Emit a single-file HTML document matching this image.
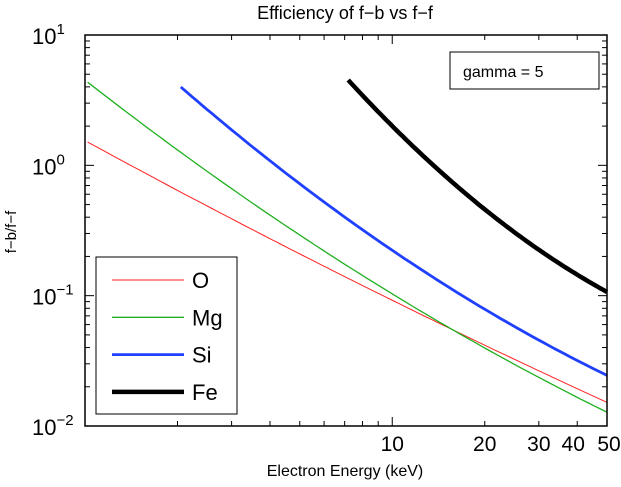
<!DOCTYPE html>
<html><head><meta charset="utf-8"><style>
html,body{margin:0;padding:0;background:#fff;}
svg{display:block;font-family:"Liberation Sans",Arial,sans-serif;}
</style></head><body>
<svg id="chart" width="621" height="487" viewBox="0 0 621 487">
<text x="345" y="19" font-size="18" text-anchor="middle">Efficiency of f−b vs f−f</text>
<text x="345" y="476" font-size="16" text-anchor="middle">Electron Energy (keV)</text>
<text transform="translate(16,232) rotate(-90)" font-size="15" text-anchor="middle">f−b/f−f</text>
<g id="grid"></g>
<g id="series"></g>
<rect x="85" y="35" width="522" height="391" fill="none" stroke="#000" stroke-width="1.5"/>
<g>
<rect x="450" y="52" width="149" height="37" fill="#fff" stroke="#000" stroke-width="1"/>
<text x="463" y="77" font-size="16">gamma = 5</text>
</g>
<g id="legend">
<rect x="96" y="257" width="141" height="157" fill="#fff" stroke="#000" stroke-width="1"/>
</g>
</svg>
<script>
const xTickValues=[10,20,30,40,50];
const xTickLabels=["10","20","30","40","50"];
const yTickExps=[1,0,-1,-2];
const seriesNames=["O","Mg","Si","Fe"];
const seriesColors=["#ff2020","#20b020","#2040ff","#000000"];
const seriesWidths=[1,1.3,2.8,4.5];
const xO=[1.02,2.12,6.19,10.6,15.7,50];
const yO=[1.476,0.627,0.157,0.0848,0.056,0.0152];
const xMg=[1.02,2.12,7.02,10,15.7,50];
const yMg=[4.13,1.31,0.169,0.098,0.056,0.0129];
const xSi=[2.05,7.02,11.2,20.2,50];
const ySi=[4.01,0.392,0.187,0.0789,0.0243];
const xFe=[7.19,11.2,18.5,30.5,50];
const yFe=[4.52,1.56,0.51,0.23,0.105];
const seriesX=[xO,xMg,xSi,xFe];
const seriesY=[yO,yMg,ySi,yFe];

const NS="http://www.w3.org/2000/svg";
const L=85,R=607,T=35,B=426,XMIN=1,XMAX=50,YMIN=0.01,YMAX=10;
function sx(v){return L+(Math.log10(v)-Math.log10(XMIN))/(Math.log10(XMAX)-Math.log10(XMIN))*(R-L);}
function sy(v){return B-(Math.log10(v)-Math.log10(YMIN))/(Math.log10(YMAX)-Math.log10(YMIN))*(B-T);}
function mk(tag,attrs,parent){const e=document.createElementNS(NS,tag);for(const k in attrs)e.setAttribute(k,attrs[k]);parent.appendChild(e);return e;}
const grid=document.getElementById('grid');
for(let d=1;d<=10;d*=10){for(let m=1;m<10;m++){const v=d*m;if(v<XMIN||v>XMAX)continue;const x=sx(v);const len=(m===1)?9:5;
const t1=mk('line',{x1:x,x2:x,y1:B,y2:B-len,stroke:'#000','stroke-width':1},grid);


mk('line',{x1:x,x2:x,y1:T,y2:T+len,stroke:'#000','stroke-width':1},grid);}}
xTickValues.forEach((v,i)=>{const t=mk('text',{x:sx(v)+(v===40?-4:v===50?2:0),y:451,'font-size':21,'text-anchor':'middle'},grid);t.textContent=xTickLabels[i];

});
for(let e=-2;e<1;e++){for(let m=1;m<10;m++){const v=m*Math.pow(10,e);const y=sy(v);const len=m===1?9:5;
const t=mk('line',{x1:L,x2:L+len,y1:y,y2:y,stroke:'#000','stroke-width':1},grid);


mk('line',{x1:R,x2:R-len,y1:y,y2:y,stroke:'#000','stroke-width':1},grid);}}
yTickExps.forEach(e=>{const y=sy(Math.pow(10,e));const t=mk('text',{x:32,y:y+9,'font-size':22},grid);


t.appendChild(document.createTextNode('10'));const s=document.createElementNS(NS,'tspan');s.setAttribute('dy','-10');s.setAttribute('font-size','15');s.textContent=(e<0?'−'+(-e):String(e));t.appendChild(s);});
// quadratic least-squares fit in log-log space for smooth curves
function quadFit(X,Y){let S=[0,0,0,0,0],Q=[0,0,0];
for(let k=0;k<X.length;k++){const x=X[k],y=Y[k];let p=1;for(let j=0;j<5;j++){S[j]+=p;if(j<3)Q[j]+=p*y;p*=x;}}
const A=[[S[0],S[1],S[2],Q[0]],[S[1],S[2],S[3],Q[1]],[S[2],S[3],S[4],Q[2]]];
for(let c=0;c<3;c++){let m=c;for(let r=c+1;r<3;r++)if(Math.abs(A[r][c])>Math.abs(A[m][c]))m=r;[A[c],A[m]]=[A[m],A[c]];
for(let r=0;r<3;r++){if(r===c)continue;const f=A[r][c]/A[c][c];for(let k=c;k<4;k++)A[r][k]-=f*A[c][k];}}
return [A[0][3]/A[0][0],A[1][3]/A[1][1],A[2][3]/A[2][2]];}
const sg=document.getElementById('series');
seriesNames.forEach((n,i)=>{const xs=seriesX[i],ys=seriesY[i];
const lx=xs.map(Math.log10),ly=ys.map(Math.log10);
const c=quadFit(lx,ly);const a=lx[0],b=lx[lx.length-1];const pts=[];
for(let j=0;j<=80;j++){const u=a+(b-a)*j/80;const v=c[0]+c[1]*u+c[2]*u*u;
pts.push(sx(Math.pow(10,u)).toFixed(1)+','+sy(Math.pow(10,v)).toFixed(1));}
const p=mk('polyline',{points:pts.join(' '),fill:'none',stroke:seriesColors[i],'stroke-width':seriesWidths[i],'stroke-linejoin':'round'},sg);

});
const lg=document.getElementById('legend');
seriesNames.forEach((n,i)=>{const y=280+i*37.3;
const g=mk('g',{},lg);


mk('line',{x1:112,x2:184,y1:y,y2:y,stroke:seriesColors[i],'stroke-width':seriesWidths[i]},g);
const t=mk('text',{x:192,y:y+8,'font-size':22},g);t.textContent=n;});
</script>
</body></html>
